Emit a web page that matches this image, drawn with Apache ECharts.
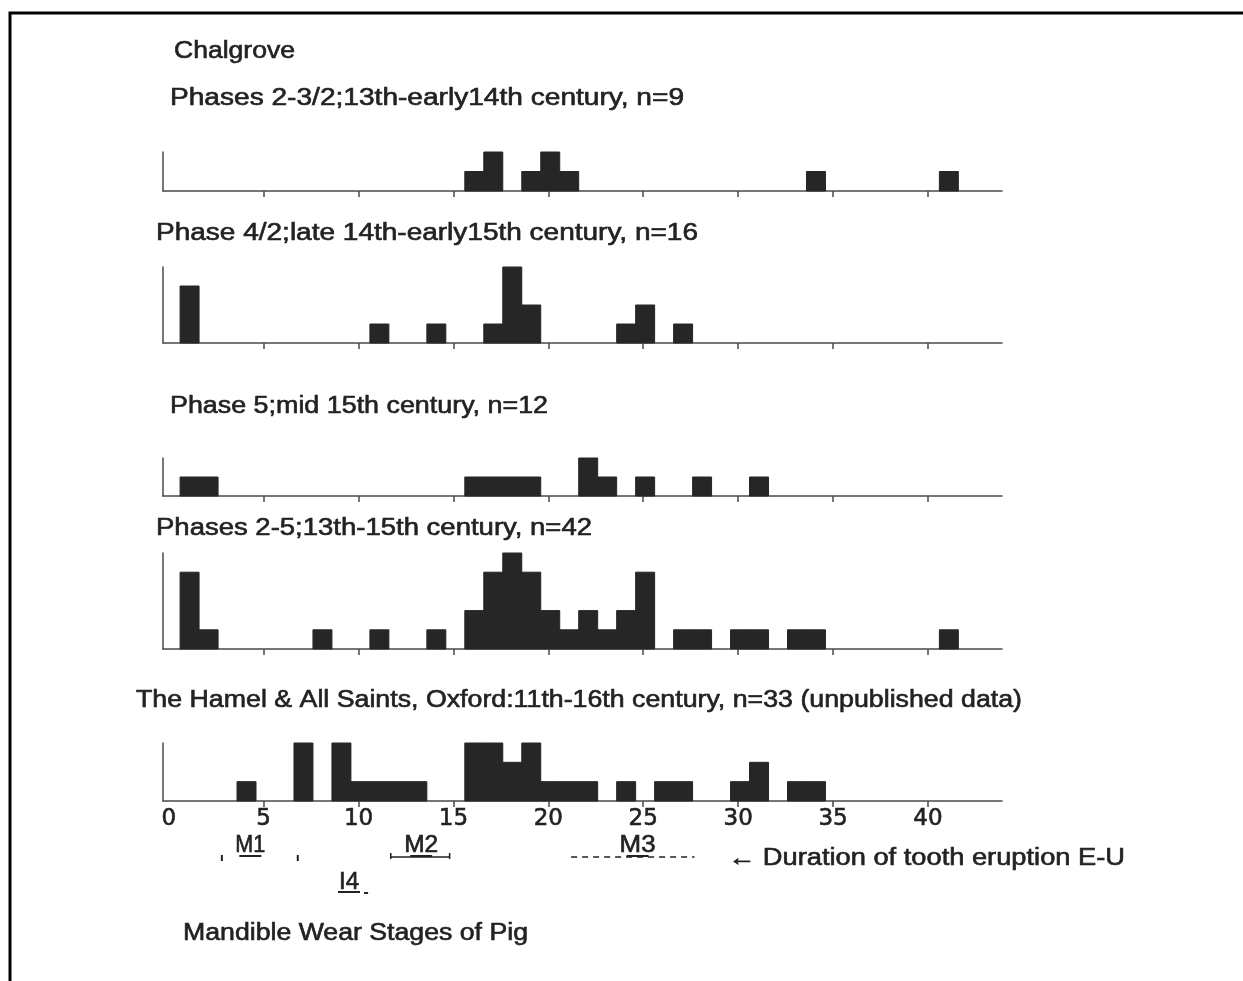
<!DOCTYPE html>
<html>
<head>
<meta charset="utf-8">
<script src="https://cdn.jsdelivr.net/npm/echarts@6/dist/echarts.min.js"></script>
<style>
  html, body { margin: 0; padding: 0; background: #fff; }
  #chart { width: 1243px; height: 981px; }
</style>
</head>
<body>
<div id="chart"></div>
<script>
// counts per wear stage, index = stage 0..41
var chalgrovePh23 = [0,0,0,0,0, 0,0,0,0,0, 0,0,0,0,0, 0,1,2,0,1, 2,1,0,0,0, 0,0,0,0,0, 0,0,0,0,1, 0,0,0,0,0, 0,1];
var chalgrovePh42 = [0,3,0,0,0, 0,0,0,0,0, 0,1,0,0,1, 0,0,1,4,2, 0,0,0,0,1, 2,0,1,0,0, 0,0,0,0,0, 0,0,0,0,0, 0,0];
var chalgrovePh5  = [0,1,1,0,0, 0,0,0,0,0, 0,0,0,0,0, 0,1,1,1,1, 0,0,2,1,0, 1,0,0,1,0, 0,1,0,0,0, 0,0,0,0,0, 0,0];
var chalgroveAll  = [0,4,1,0,0, 0,0,0,1,0, 0,1,0,0,1, 0,2,4,5,4, 2,1,2,1,2, 4,0,1,1,0, 1,1,0,1,1, 0,0,0,0,0, 0,1];
var hamelOxford   = [0,0,0,0,1, 0,0,3,0,3, 1,1,1,1,0, 0,3,3,2,3, 1,1,1,0,1, 0,1,1,0,0, 1,2,0,1,1, 0,0,0,0,0, 0,0];

var panelTitles = [
  'Phases 2-3/2;13th-early14th century, n=9',
  'Phase 4/2;late 14th-early15th century, n=16',
  'Phase 5;mid 15th century, n=12',
  'Phases 2-5;13th-15th century, n=42',
  'The Hamel & All Saints, Oxford:11th-16th century, n=33 (unpublished data)'
];
var tickValues = [5, 10, 15, 20, 25, 30, 35, 40];
var labelValues = [0, 5, 10, 15, 20, 25, 30, 35, 40];

// tooth eruption durations (wear stage units)
var eruptionNames = ['M1', 'M2', 'M3', 'I4'];
var eruptionFrom = [2.8, 11.7, 21.2, 9.0];
var eruptionTo = [6.8, 14.8, 27.7, 10.4];
var eruptionLabelAt = [4.3, 13.3, 24.7, 9.5];
var eruptionRow = [0, 0, 0, 1];
var eruptionStyle = ['ends', 'solid', 'dashed', 'dot'];

var panels = [chalgrovePh23, chalgrovePh42, chalgrovePh5, chalgroveAll, hamelOxford];
var gridTops = [152, 267, 458, 553, 743];
var gridHeights = [39, 76, 38, 96, 58];

var FONT = '23px "Liberation Sans", Arial, sans-serif';
var INK = '#222';
var BAR = '#262626';
var AXIS = '#4a4a4a';

var measureCtx = document.createElement('canvas').getContext('2d');
measureCtx.font = FONT;
function fitScale(text, width) {
  return width / measureCtx.measureText(text).width;
}

var chart = echarts.init(document.getElementById('chart'));

function barItem(params, api) {
  var s = api.value(0), c = api.value(1);
  var p0 = api.coord([s - 0.4, c]);
  var p1 = api.coord([s + 0.6, 0]);
  return {
    type: 'rect',
    shape: { x: p0[0], y: p0[1], width: p1[0] - p0[0], height: p1[1] - p0[1] },
    style: { fill: BAR, stroke: BAR, lineWidth: 1 }
  };
}

var labelWidths = [30, 34, 36, 20];

function eruptionItem(params, api) {
  var i = params.dataIndex;
  var from = api.coord([api.value(0), 0]);
  var to = api.coord([api.value(1), 0]);
  var lab = api.coord([api.value(2), 0]);
  var row = api.value(3);
  var base = from[1];
  var ly = base + (row ? 82 : 45);
  var y = base + (row ? 92 : 56);
  var st = eruptionStyle[i];
  var kids = [{
    type: 'text', x: lab[0], y: ly, scaleX: fitScale(eruptionNames[i], labelWidths[i]),
    style: { text: eruptionNames[i], font: FONT, fill: INK, stroke: INK, lineWidth: 0.6, align: 'center', verticalAlign: 'middle' }
  }, {
    type: 'line', shape: { x1: lab[0] - 11, y1: y - 1, x2: lab[0] + 11, y2: y - 1 },
    style: { stroke: INK, lineWidth: 2 }
  }];
  if (st === 'ends') {
    kids.push({ type: 'line', shape: { x1: from[0], y1: y - 2, x2: from[0], y2: y + 4 }, style: { stroke: INK, lineWidth: 2 } });
    kids.push({ type: 'line', shape: { x1: to[0], y1: y - 2, x2: to[0], y2: y + 4 }, style: { stroke: INK, lineWidth: 2 } });
  } else if (st === 'solid') {
    kids.push({ type: 'line', shape: { x1: from[0], y1: y, x2: to[0], y2: y }, style: { stroke: INK, lineWidth: 1.5 } });
    kids.push({ type: 'line', shape: { x1: from[0], y1: y - 4, x2: from[0], y2: y + 2 }, style: { stroke: INK, lineWidth: 1.5 } });
    kids.push({ type: 'line', shape: { x1: to[0], y1: y - 4, x2: to[0], y2: y + 2 }, style: { stroke: INK, lineWidth: 1.5 } });
  } else if (st === 'dashed') {
    kids.push({ type: 'line', shape: { x1: from[0], y1: y, x2: to[0], y2: y }, style: { stroke: INK, lineWidth: 1.5, lineDash: [6, 5] } });
  } else {
    kids.push({ type: 'line', shape: { x1: to[0] - 2, y1: y, x2: to[0] + 2, y2: y }, style: { stroke: INK, lineWidth: 2 } });
  }
  return { type: 'group', children: kids };
}

var grids = [], xAxes = [], yAxes = [], series = [];
panels.forEach(function (counts, k) {
  var last = k === panels.length - 1;
  grids.push({ left: 163, width: 839, top: gridTops[k], height: gridHeights[k] });
  xAxes.push({
    type: 'value', gridIndex: k, min: -0.3, max: 43.9,
    axisLine: { show: true, onZero: false, lineStyle: { color: AXIS, width: 1.5 } },
    axisTick: { show: true, length: 6, customValues: tickValues, lineStyle: { color: AXIS, width: 1.5 } },
    axisLabel: last ? {
      show: true, customValues: labelValues, margin: 7,
      fontFamily: '"DejaVu Sans", sans-serif', fontSize: 23, color: INK,
      textBorderColor: INK, textBorderWidth: 0.6
    } : { show: false },
    splitLine: { show: false }
  });
  yAxes.push({
    type: 'value', gridIndex: k, min: 0, max: Math.max.apply(null, counts),
    axisLine: { show: true, onZero: false, lineStyle: { color: AXIS, width: 1.5 } },
    axisTick: { show: false }, axisLabel: { show: false }, splitLine: { show: false }
  });
  var data = [];
  counts.forEach(function (c, s) { if (c > 0) data.push([s, c]); });
  series.push({
    type: 'custom', xAxisIndex: k, yAxisIndex: k,
    renderItem: barItem, encode: { x: 0, y: 1 }, data: data, silent: true
  });
});

series.push({
  type: 'custom', xAxisIndex: 4, yAxisIndex: 4, clip: false, silent: true,
  renderItem: eruptionItem,
  encode: { x: [0, 1] },
  data: eruptionNames.map(function (n, i) {
    return [eruptionFrom[i], eruptionTo[i], eruptionLabelAt[i], eruptionRow[i]];
  })
});

function label(text, x, y, width) {
  return {
    type: 'text', x: x, y: y, scaleX: fitScale(text, width), silent: true,
    style: { text: text, font: FONT, fill: INK, stroke: INK, lineWidth: 0.6, verticalAlign: 'middle' }
  };
}

var titleX = [170, 156, 170, 156, 136];
var titleY = [99, 234, 407, 529, 701];
var titleW = [514, 542, 378, 436, 886];

var graphics = [
  { type: 'rect', shape: { x: 10, y: 13, width: 1300, height: 1100 }, style: { fill: 'none', stroke: '#000', lineWidth: 3 }, silent: true },
  label('Chalgrove', 174, 52, 121),
  label('\u2190 Duration of tooth eruption E-U', 728, 859, 397),
  label('Mandible Wear Stages of Pig', 183, 934, 345)
];
panelTitles.forEach(function (t, k) { graphics.push(label(t, titleX[k], titleY[k], titleW[k])); });

chart.setOption({
  backgroundColor: '#fff',
  animation: false,
  grid: grids,
  xAxis: xAxes,
  yAxis: yAxes,
  series: series,
  graphic: graphics
});
</script>
</body>
</html>
